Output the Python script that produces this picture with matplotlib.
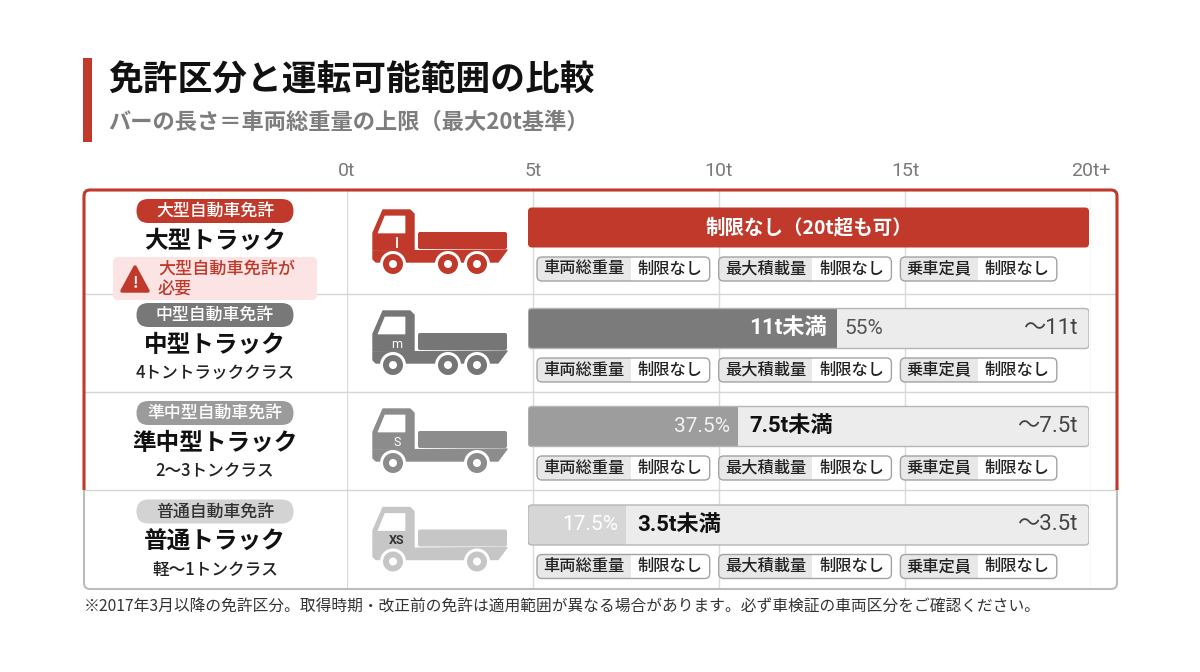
import matplotlib
matplotlib.use('Agg')
import matplotlib.pyplot as plt
from matplotlib.patches import FancyBboxPatch, Rectangle, Polygon, Circle, PathPatch
from matplotlib.path import Path

plt.rcParams['font.family'] = ['Noto Sans CJK JP', 'DejaVu Sans']
NUM_FONT = ['Roboto', 'Noto Sans CJK JP']

# ---- data ----
licenses = ['大型自動車免許', '中型自動車免許', '準中型自動車免許', '普通自動車免許']
trucks = ['大型トラック', '中型トラック', '準中型トラック', '普通トラック']
truck_classes = ['', '4トントラッククラス', '2〜3トンクラス', '軽〜1トンクラス']
gvw_limit = [20, 11, 7.5, 3.5]          # tons, 20 = no limit
limit_labels = ['制限なし（20t超も可）', '11t未満', '7.5t未満', '3.5t未満']
range_labels = ['', '〜11t', '〜7.5t', '〜3.5t']
scale_max = 20
tick_values = [0, 5, 10, 15, 20]
tick_labels = ['0t', '5t', '10t', '15t', '20t+']
spec_items = ['車両総重量', '最大積載量', '乗車定員']
spec_values = ['制限なし', '制限なし', '制限なし']
wheel_counts = [3, 3, 2, 2]
size_marks = ['', 'm', 'S', 'XS']
warn_text = '大型自動車免許が\n必要'

title = '免許区分と運転可能範囲の比較'
subtitle = 'バーの長さ＝車両総重量の上限（最大20t基準）'
note = '※2017年3月以降の免許区分。取得時期・改正前の免許は適用範囲が異なる場合があります。必ず車検証の車両区分をご確認ください。'

# ---- style ----
RED = '#c0392b'
truck_colors = [RED, '#767676', '#8c8c8c', '#c6c6c6']
badge_colors = [RED, '#787878', '#9b9b9b', '#d3d3d3']
badge_text = ['white', 'white', 'white', '#333333']
fill_colors = [RED, '#7b7b7b', '#9d9d9d', '#d6d6d6']
pct_colors = ['white', '#555555', '#f2f2f2', 'white']

W, H = 1200, 672
rows = [190, 294, 392, 490, 589]
TX0, TX1 = 84, 1117
COL1, GRID1 = 347, 1091
BAR0, BAR1 = 528, 1089


def rbox(a, x, y, w, h, r, aspect=1.0, **kw):
    p = FancyBboxPatch((x, y), w, h, boxstyle='round,pad=0,rounding_size=%g' % r,
                       mutation_aspect=aspect, **kw)
    a.add_patch(p)
    return p


def pix_axes(z):
    a = fig.add_axes([0, 0, 1, 1], zorder=z)
    a.set_xlim(0, W)
    a.set_ylim(H, 0)
    a.axis('off')
    return a


def draw_truck(a, x0, yc, color, n_wheels, mark, mark_color):
    cab = Polygon([(x0, yc + 8), (x0, yc - 9), (x0 + 10, yc - 32), (x0 + 37, yc - 32),
                   (x0 + 41, yc - 28), (x0 + 41, yc + 8)], closed=True, fc=color, ec=color,
                  lw=1, joinstyle='round', zorder=3)
    a.add_patch(cab)
    win = Polygon([(x0 + 5, yc - 9), (x0 + 12, yc - 26), (x0 + 32, yc - 26), (x0 + 32, yc - 9)],
                  closed=True, fc='white', ec='white', lw=0.5, joinstyle='round', zorder=4)
    a.add_patch(win)
    rbox(a, x0 + 45, yc - 10, 89, 17, 2, fc=color, ec='none', zorder=3)
    chassis = Polygon([(x0, yc + 9), (x0 + 134, yc + 8), (x0 + 125, yc + 20), (x0 + 3, yc + 20),
                       (x0, yc + 17)], closed=True, fc=color, ec=color, lw=1,
                      joinstyle='round', zorder=3)
    a.add_patch(chassis)
    wx = [20, 75, 104] if n_wheels == 3 else [20, 104]
    for w in wx:
        a.add_patch(Circle((x0 + w, yc + 22), 13, fc='white', ec='none', zorder=5))
        a.add_patch(Circle((x0 + w, yc + 22), 10, fc=color, ec='none', zorder=6))
        a.add_patch(Circle((x0 + w, yc + 22), 4, fc='white', ec='none', zorder=7))
    if mark:
        a.text(x0 + 24, yc + 1, mark, fontsize=9, color=mark_color, ha='center', va='center',
               family=NUM_FONT, weight='bold' if mark_color != 'white' else 'normal', zorder=8)
    else:
        a.plot([x0 + 24, x0 + 24], [yc - 4, yc + 5], color='white', lw=1.3, zorder=8)


fig = plt.figure(figsize=(W / 100, H / 100), dpi=100)
fig.patch.set_facecolor('white')

# background layer
bg = pix_axes(0)
bg.add_patch(Rectangle((TX0, rows[0]), TX1 - TX0, rows[-1] - rows[0], fc='white', ec='none'))

# tonnage scale with vertical grid lines
tab_bottom = 1 - rows[-1] / H
tab_h = (rows[-1] - rows[0]) / H
axg = fig.add_axes([COL1 / W, tab_bottom, (GRID1 - COL1) / W, tab_h], zorder=1)
axg.set_xlim(0, scale_max)
axg.set_ylim(0, 1)
axg.patch.set_visible(False)
for s in axg.spines.values():
    s.set_visible(False)
axg.xaxis.tick_top()
axg.set_xticks(tick_values)
axg.set_xticklabels(tick_labels)
axg.set_yticks([])
axg.tick_params(axis='x', length=0, pad=7, labelsize=14, labelcolor='#7a7a7a')
for lb in axg.get_xticklabels():
    lb.set_fontfamily(NUM_FONT)
axg.grid(axis='x', color='#dadada', lw=1)

# foreground layer
ax = pix_axes(2)

# header
ax.add_patch(Rectangle((83, 58), 9, 84, fc=RED, ec='none'))
ax.text(108, 80, title, fontsize=25, weight='bold', color='#111111', va='center')
ax.text(108, 122, subtitle, fontsize=16, weight='bold', color='#7d7d7d', va='center')

# table frame and row separators
for y in rows[1:-1]:
    ax.plot([TX0, TX1], [y, y], color='#d6d6d6', lw=1, zorder=1)
rbox(ax, TX0, rows[0], TX1 - TX0, rows[-1] - rows[0], 6, fc='none', ec='#bcbcbc', lw=1.5, zorder=2)
r = 6
verts = [(TX0, rows[3]), (TX0, rows[0] + r), (TX0, rows[0]), (TX0 + r, rows[0]),
         (TX1 - r, rows[0]), (TX1, rows[0]), (TX1, rows[0] + r), (TX1, rows[3])]
codes = [Path.MOVETO, Path.LINETO, Path.CURVE3, Path.CURVE3, Path.LINETO,
         Path.CURVE3, Path.CURVE3, Path.LINETO]
ax.add_patch(PathPatch(Path(verts, codes), fc='none', ec=RED, lw=2.2, zorder=2))

# left column + icons + spec pills
CH = 16.3
for i in range(4):
    yc = (rows[i] + rows[i + 1]) / 2
    if truck_classes[i]:
        by, ty = yc - 28, yc + 2
        ax.text(215, yc + 30, truck_classes[i], fontsize=12, weight='medium', color='#222222',
                ha='center', va='center')
    else:
        by, ty = yc - 31, yc - 1
        rbox(ax, 113, yc + 15, 204, 43, 5, fc='#fde4e4', ec='none', zorder=3)
        ax.add_patch(Polygon([(135, yc + 25), (122, yc + 49), (148, yc + 49)], closed=True,
                             fc=RED, ec=RED, lw=2.5, joinstyle='round', zorder=4))
        ax.text(135, yc + 41, '!', fontsize=11, weight='bold', color='white', ha='center',
                va='center', zorder=5)
        ax.text(158, yc + 38, warn_text, fontsize=12.3, weight='medium', color=RED, va='center',
                linespacing=1.15, zorder=5)
    rbox(ax, 215 - 78.5, by - 12, 157, 24, 12, fc=badge_colors[i], ec='none', zorder=3)
    ax.text(215, by, licenses[i], fontsize=12.2, weight='medium', color=badge_text[i],
            ha='center', va='center', zorder=4)
    ax.text(215, ty, trucks[i], fontsize=17, weight='bold', color='#111111', ha='center', va='center')

    draw_truck(ax, 373, yc, truck_colors[i], wheel_counts[i], size_marks[i],
               '#333333' if i == 3 else 'white')

    # spec pills
    py = yc + 27
    x = 537
    for item, val in zip(spec_items, spec_values):
        lw_ = len(item) * CH + 12
        vw = len(val) * CH + 14
        outer = rbox(ax, x, py - 12, lw_ + vw, 24, 5, fc='#e8e8e8', ec='none', zorder=3)
        wpart = Rectangle((x + lw_, py - 12), vw, 24, fc='white', ec='none', zorder=3.5)
        ax.add_patch(wpart)
        wpart.set_clip_path(outer)
        rbox(ax, x, py - 12, lw_ + vw, 24, 5, fc='none', ec='#a3a3a3', lw=1, zorder=4)
        ax.text(x + lw_ / 2, py, item, fontsize=11.7, weight='medium', color='#222222',
                ha='center', va='center', zorder=5)
        ax.text(x + lw_ + vw / 2, py, val, fontsize=11.7, weight='medium', color='#222222',
                ha='center', va='center', zorder=5)
        x += lw_ + vw + 9

# bars on a tonnage axis
axb = fig.add_axes([BAR0 / W, tab_bottom, (BAR1 - BAR0) / W, tab_h], zorder=3)
axb.set_xlim(0, scale_max)
axb.set_ylim(rows[-1], rows[0])
axb.axis('off')
asp = (BAR1 - BAR0) / scale_max
rad = 4 / asp
for i in range(4):
    yc = (rows[i] + rows[i + 1]) / 2 - 14.5
    top = yc - 20
    v = gvw_limit[i]
    if v >= scale_max:
        rbox(axb, 0, top, scale_max, 40, rad, asp, fc=RED, ec='none')
        axb.text(scale_max / 2, yc, limit_labels[i], fontsize=14, weight='bold', color='white',
                 ha='center', va='center')
        continue
    back = rbox(axb, 0, top, scale_max, 40, rad, asp, fc='#ececec', ec='none')
    fill = Rectangle((0, top), v, 40, fc=fill_colors[i], ec='none', zorder=1.5)
    axb.add_patch(fill)
    fill.set_clip_path(back)
    rbox(axb, 0, top, scale_max, 40, rad, asp, fc='none', ec='#b5b5b5', lw=1, zorder=2)
    pct = '%g%%' % (v / scale_max * 100)
    if v / scale_max >= 0.5:
        axb.annotate(limit_labels[i], (v, yc), xytext=(-7, 0), textcoords='offset points',
                     fontsize=16, weight='bold', color='white', ha='right', va='center',
                     family=NUM_FONT, zorder=3)
        axb.annotate(pct, (v, yc), xytext=(6, 0), textcoords='offset points', fontsize=15,
                     color=pct_colors[i], ha='left', va='center', family=NUM_FONT, zorder=3)
    else:
        axb.annotate(pct, (v, yc), xytext=(-6, 0), textcoords='offset points', fontsize=15,
                     color=pct_colors[i], ha='right', va='center', family=NUM_FONT, zorder=3)
        axb.annotate(limit_labels[i], (v, yc), xytext=(8, 0), textcoords='offset points',
                     fontsize=16, weight='bold', color='#111111', ha='left', va='center',
                     family=NUM_FONT, zorder=3)
    axb.annotate(range_labels[i], (scale_max, yc), xytext=(-8, 0), textcoords='offset points',
                 fontsize=16, color='#444444', ha='right', va='center', family=NUM_FONT, zorder=3)

ax.text(84, 607, note, fontsize=11.3, color='#333333', va='center')

fig.savefig('out.png', dpi=100)
